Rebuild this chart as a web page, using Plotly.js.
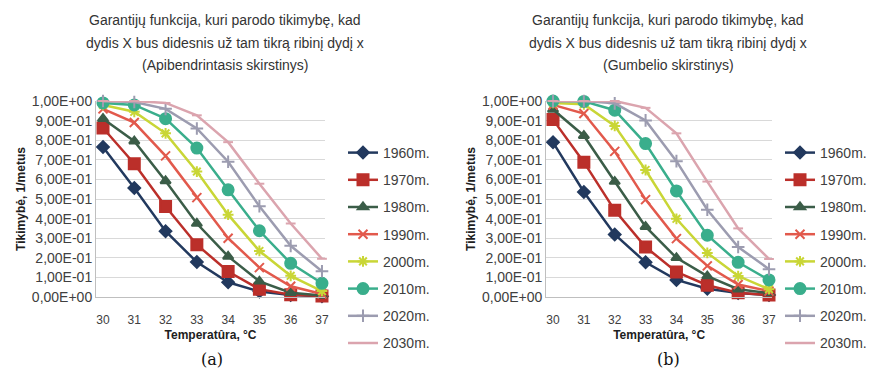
<!DOCTYPE html>
<html><head><meta charset="utf-8">
<script src="https://cdn.plot.ly/plotly-3.0.1.min.js"></script>
<style>html,body{margin:0;padding:0;background:#fff}#chart{width:895px;height:372px}</style>
</head><body><div id="chart"></div>
<script>
// Categories (temperature, °C)
const temps = [30, 31, 32, 33, 34, 35, 36, 37];
const seriesNames = ['1960m.', '1970m.', '1980m.', '1990m.', '2000m.', '2010m.', '2020m.', '2030m.'];

// (a) Apibendrintasis skirstinys
const apib1960 = [0.765, 0.556, 0.336, 0.178, 0.075, 0.028, 0.010, 0.004];
const apib1970 = [0.862, 0.680, 0.462, 0.267, 0.130, 0.040, 0.012, 0.005];
const apib1980 = [0.910, 0.795, 0.592, 0.375, 0.207, 0.080, 0.022, 0.008];
const apib1990 = [0.960, 0.890, 0.720, 0.507, 0.300, 0.150, 0.055, 0.015];
const apib2000 = [0.980, 0.945, 0.835, 0.640, 0.420, 0.235, 0.108, 0.030];
const apib2010 = [0.990, 0.980, 0.910, 0.760, 0.547, 0.338, 0.172, 0.070];
const apib2020 = [1.000, 0.995, 0.960, 0.860, 0.690, 0.463, 0.261, 0.131];
const apib2030 = [1.000, 1.000, 0.990, 0.927, 0.790, 0.578, 0.375, 0.195];

// (b) Gumbelio skirstinys
const gumb1960 = [0.789, 0.536, 0.319, 0.177, 0.087, 0.042, 0.020, 0.010];
const gumb1970 = [0.905, 0.688, 0.442, 0.255, 0.128, 0.060, 0.022, 0.010];
const gumb1980 = [0.957, 0.823, 0.589, 0.359, 0.200, 0.107, 0.040, 0.020];
const gumb1990 = [0.980, 0.936, 0.743, 0.497, 0.298, 0.159, 0.064, 0.030];
const gumb2000 = [0.990, 0.983, 0.873, 0.648, 0.399, 0.225, 0.107, 0.040];
const gumb2010 = [1.000, 0.998, 0.953, 0.783, 0.541, 0.315, 0.177, 0.087];
const gumb2020 = [1.000, 1.000, 0.988, 0.901, 0.693, 0.445, 0.255, 0.142];
const gumb2030 = [1.000, 1.000, 1.000, 0.965, 0.835, 0.589, 0.350, 0.194];

// Tick labels
const yTickVals = [0, 0.1, 0.2, 0.3, 0.4, 0.5, 0.6, 0.7, 0.8, 0.9, 1.0];
const yTickText = ['0,00E+00', '1,00E-01', '2,00E-01', '3,00E-01', '4,00E-01', '5,00E-01',
                   '6,00E-01', '7,00E-01', '8,00E-01', '9,00E-01', '1,00E+00'];
const titleLinesA = ['Garantijų funkcija, kuri parodo tikimybę, kad', 'dydis X bus didesnis už tam tikrą ribinį dydį x', '(Apibendrintasis skirstinys)'];
const titleLinesB = ['Garantijų funkcija, kuri parodo tikimybę, kad', 'dydis X bus didesnis už tam tikrą ribinį dydį x', '(Gumbelio skirstinys)'];
const xTitle = 'Temperatûra, °C';
const yTitle = 'Tikimybė, 1/metus';

// Styles
const colors = ['#22395e', '#bb2f2a', '#3b5d48', '#e2594c', '#c9d636', '#3aae8c', '#9c9cb0', '#dba4ae'];
const symbols = ['diamond', 'square', 'triangle-up', 'x-thin-open', 'asterisk-open', 'circle', 'cross-thin-open', 'line-ew-open'];
const sizes = [9, 11, 9, 9, 9, 11, 9, 7];

const apibSeries = [apib1960, apib1970, apib1980, apib1990, apib2000, apib2010, apib2020, apib2030];
const gumbSeries = [gumb1960, gumb1970, gumb1980, gumb1990, gumb2000, gumb2010, gumb2020, gumb2030];

const traces = [];
function addSet(series, xa, ya, leg) {
  series.forEach((vals, i) => {
    traces.push({
      type: 'scatter', mode: 'lines+markers',
      x: temps, y: vals, xaxis: xa, yaxis: ya, legend: leg,
      name: seriesNames[i], legendgroup: leg + i,
      line: {color: colors[i], width: 2.5},
      marker: {symbol: symbols[i], size: sizes[i], color: colors[i], line: {color: colors[i], width: 2}},
      cliponaxis: false
    });
  });
}
addSet(apibSeries, 'x', 'y', 'legend');
addSet(gumbSeries, 'x2', 'y2', 'legend2');

const W = 895, H = 372;
const px = v => v / W, py = v => 1 - v / H;
const font = 'Liberation Sans, Arial, sans-serif';

function xAxis(dom, anchor) {
  return {
    domain: dom, range: [29.776, 37.1], tickvals: temps, ticktext: temps.map(String), anchor: anchor,
    showgrid: false, zeroline: false, showline: true, linecolor: '#bfbfbf', linewidth: 1,
    ticks: '', ticklabelstandoff: 12,
    tickfont: {family: font, size: 12, color: '#404040'},
    title: {text: xTitle, font: {family: font, size: 12, color: '#202020', weight: 'bold'}, standoff: 4}
  };
}
function yAxis(dom, anchor) {
  return {
    domain: dom, range: [0, 1], tickvals: yTickVals, ticktext: yTickText, anchor: anchor,
    showgrid: true, gridcolor: '#d9d9d9', gridwidth: 1, zeroline: false,
    showline: true, linecolor: '#bfbfbf', linewidth: 1, ticks: '',
    tickfont: {family: font, size: 14, color: '#404040'},
    title: {text: yTitle, font: {family: font, size: 12, color: '#202020', weight: 'bold'}, standoff: 3}
  };
}

const ann = [];
const titleYs = [20, 43, 65];
titleLinesA.forEach((t, i) => ann.push({xref: 'paper', yref: 'paper', x: px(225), y: py(titleYs[i]), xanchor: 'center', yanchor: 'middle', showarrow: false, text: t, font: {family: font, size: 14, color: '#333333'}}));
titleLinesB.forEach((t, i) => ann.push({xref: 'paper', yref: 'paper', x: px(668), y: py(titleYs[i]), xanchor: 'center', yanchor: 'middle', showarrow: false, text: t, font: {family: font, size: 14, color: '#333333'}}));
ann.push({xref: 'paper', yref: 'paper', x: px(212), y: py(359), xanchor: 'center', yanchor: 'middle', showarrow: false, text: '(a)', font: {family: 'DejaVu Serif, serif', size: 16, color: '#111'}});
ann.push({xref: 'paper', yref: 'paper', x: px(668), y: py(359), xanchor: 'center', yanchor: 'middle', showarrow: false, text: '(b)', font: {family: 'DejaVu Serif, serif', size: 16, color: '#111'}});

const legStyle = (x) => ({x: x, y: py(137), xanchor: 'left', yanchor: 'top', xref: 'paper', yref: 'paper',
  font: {family: font, size: 14, color: '#404040'}, tracegroupgap: 6, itemwidth: 30, bgcolor: 'rgba(0,0,0,0)'});

const layout = {
  width: W, height: H, margin: {l: 0, r: 0, t: 0, b: 0},
  paper_bgcolor: '#ffffff', plot_bgcolor: '#ffffff', showlegend: true,
  xaxis: xAxis([px(96), px(325.1)], 'y'),
  yaxis: yAxis([py(297), py(101)], 'x'),
  xaxis2: xAxis([px(546.1), px(772.1)], 'y2'),
  yaxis2: yAxis([py(297), py(101)], 'x2'),
  legend: legStyle(px(343)),
  legend2: legStyle(px(780)),
  annotations: ann
};

Plotly.newPlot('chart', traces, layout, {staticPlot: true});
</script></body></html>
